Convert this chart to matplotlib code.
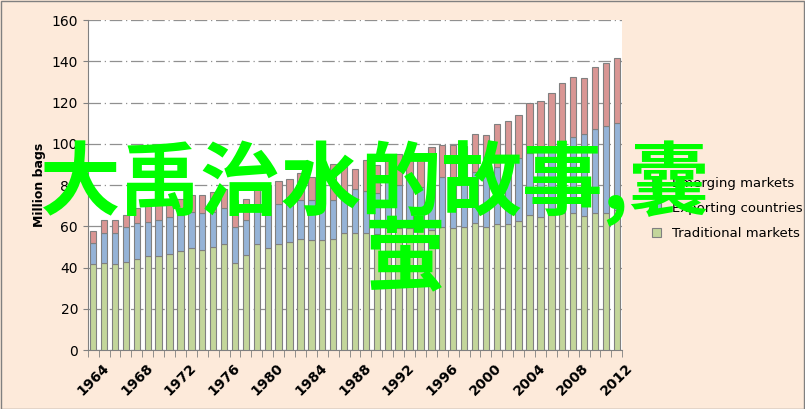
import matplotlib
matplotlib.use("Agg")
import matplotlib.pyplot as plt
import numpy as np

years = list(range(1964, 2013))
traditional = [41.5, 42.0, 41.5, 42.5, 44.4, 45.4, 45.4, 46.4, 47.9, 49.3,
               48.3, 49.8, 51.3, 42.0, 45.9, 51.3, 49.3, 51.3, 52.2, 53.7,
               53.2, 53.2, 53.7, 57.0, 57.0, 57.0, 56.2, 59.0, 59.0, 59.0,
               59.0, 58.2, 59.8, 59.0, 59.8, 61.4, 59.8, 60.9, 60.9, 62.7,
               65.3, 64.3, 65.3, 66.3, 66.3, 64.8, 66.3, 66.3, 67.9]
exporting_top = [51.7, 57.0, 57.0, 59.5, 61.4, 61.9, 62.9, 64.4, 65.3, 66.8,
                 66.3, 66.8, 68.7, 59.5, 63.3, 70.0, 67.0, 70.6, 73.0, 73.0,
                 73.0, 73.0, 73.0, 76.0, 78.0, 76.9, 76.0, 81.8, 80.0, 83.7,
                 78.9, 82.0, 83.7, 80.0, 82.0, 86.4, 86.0, 88.9, 90.0, 92.9,
                 95.7, 97.0, 98.0, 100.2, 103.4, 104.6, 107.0, 108.4, 110.3]
total_top = [57.7, 63.3, 63.3, 65.3, 68.7, 70.2, 70.6, 72.1, 73.1, 75.0,
             75.0, 76.5, 77.9, 73.0, 73.1, 79.0, 80.0, 81.8, 82.8, 85.7,
             83.7, 85.0, 90.0, 90.0, 87.8, 92.1, 89.7, 93.7, 94.9, 97.0,
             93.4, 98.5, 99.5, 99.5, 99.0, 104.9, 104.4, 109.4, 110.9, 113.8,
             119.6, 120.6, 124.4, 129.3, 132.2, 131.7, 137.1, 139.0, 141.4]

exporting = np.array(exporting_top) - np.array(traditional)
emerging = np.array(total_top) - np.array(exporting_top)

fig = plt.figure(figsize=(8.05, 4.09), dpi=100, facecolor="#FDEADA")
ax = fig.add_axes([0.109, 0.144, 0.664, 0.807])
ax.set_facecolor("white")

x = np.arange(len(years))
kw = dict(width=0.58, edgecolor="#808080", linewidth=0.8, zorder=3)
ax.bar(x, traditional, color="#C3D69B", label="Traditional markets", **kw)
ax.bar(x, exporting, bottom=traditional, color="#95B3D7",
       label="Exporting countries", **kw)
ax.bar(x, emerging, bottom=exporting_top, color="#D99694",
       label="Emerging markets", **kw)

ax.set_xlim(-0.5, len(years) - 0.5)
ax.set_ylim(0, 160)
ax.set_yticks(range(0, 161, 20))
ax.yaxis.grid(True, color="#909090", linestyle=(0, (10, 3, 1, 3)), linewidth=0.9, zorder=0)
ax.set_xticks(x[::4])
ax.set_xticklabels([str(y) for y in years[::4]], rotation=45, fontweight="bold", fontsize=10)
ax.set_xticks(np.arange(-0.5, len(years), 1), minor=True)
ax.tick_params(axis="x", which="major", length=0, pad=8)
ax.tick_params(axis="x", which="minor", length=5, color="#808080")
ax.tick_params(axis="y", labelsize=10, color="#808080")
for s in ["top", "right"]:
    ax.spines[s].set_visible(False)
for s in ["left", "bottom"]:
    ax.spines[s].set_color("#808080")
ax.set_ylabel("Million bags", fontweight="bold", fontsize=9)

h, l = ax.get_legend_handles_labels()
fig.legend(h[::-1], l[::-1], loc="center left", bbox_to_anchor=(0.795, 0.49),
           frameon=False, fontsize=9.5, handlelength=0.7, handleheight=0.7,
           labelspacing=0.9)

cjk = ["Noto Sans CJK SC", "DejaVu Sans"]
fig.text(0.465, 0.55, "大禹治水的故事,囊", family=cjk, color="#00FF00",
         fontsize=58, fontweight="bold", ha="center", va="center", zorder=10)
fig.text(0.503, 0.365, "萤", family=cjk, color="#00FF00",
         fontsize=58, fontweight="bold", ha="center", va="center", zorder=10)

border = plt.Rectangle((0.001, 0.001), 0.998, 0.997, transform=fig.transFigure,
                       fill=False, edgecolor="#808080", linewidth=1)
fig.add_artist(border)

fig.savefig("out.png", dpi=100, facecolor=fig.get_facecolor())
